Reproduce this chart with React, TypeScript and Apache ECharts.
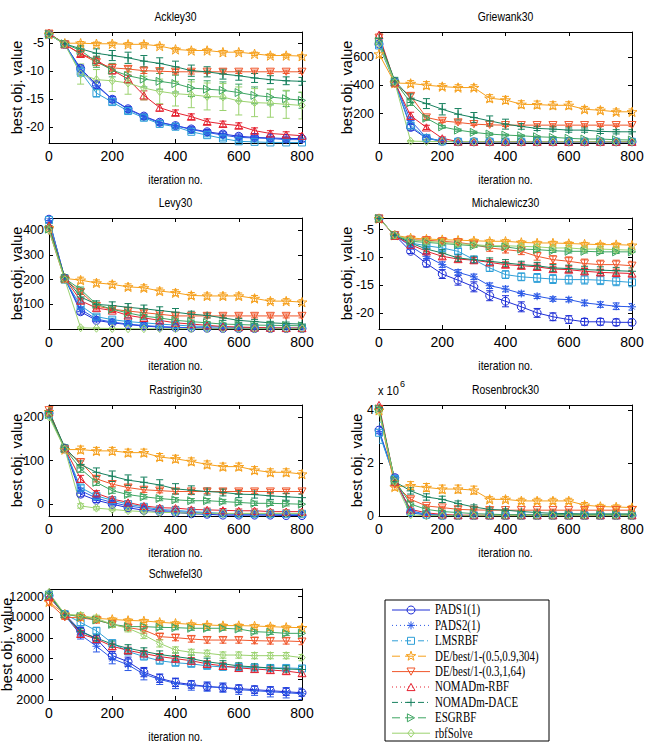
import React, { useEffect, useRef } from "react";
import * as echarts from "echarts";

// Iteration checkpoints shared by every panel
const ITERATIONS = [0, 50, 100, 150, 200, 250, 300, 350, 400, 450, 500, 550, 600, 650, 700, 750, 800];

const METHODS = [
  "PADS1(1)",
  "PADS2(1)",
  "LMSRBF",
  "DE/best/1-(0.5,0.9,304)",
  "DE/best/1-(0.3,1,64)",
  "NOMADm-RBF",
  "NOMADm-DACE",
  "ESGRBF",
  "rbfSolve",
];
const METHOD_COLORS = ["#1f2fd6", "#2a58e6", "#2e9fd8", "#f6a01c", "#f0572c", "#e5212f", "#17805e", "#3ea562", "#9bd26f"];
const METHOD_DASH: (number[] | null)[] = [null, [1, 3], [6, 3, 1, 3], [8, 5], null, [1, 3], [6, 3, 1, 3], [8, 5], null];
const METHOD_MARKERS = ["circle", "asterisk", "square", "star", "triangleDown", "triangleUp", "plus", "triangleRight", "diamond"];
const MARKER_SIZES = [8, 8, 7, 10, 8, 8, 8, 8, 8];

// ---- Ackley30 ----
const ACKLEY_TICKS = [-20, -15, -10, -5];
const ACKLEY_MEAN = [
  [-3.4, -5.2, -9.5, -12.4, -15.0, -16.7, -18.0, -19.1, -19.7, -20.3, -20.8, -21.2, -21.6, -21.8, -21.9, -22.0, -22.0],
  [-3.3, -5.1, -9.8, -12.6, -15.0, -16.8, -18.1, -19.2, -19.7, -20.4, -20.9, -21.4, -21.8, -21.9, -22.0, -22.2, -22.2],
  [-3.4, -5.2, -10.1, -13.9, -15.5, -17.1, -18.3, -19.4, -19.9, -20.8, -21.4, -22.0, -22.5, -22.6, -22.7, -22.7, -22.7],
  [-3.4, -5.0, -5.0, -5.1, -5.1, -5.2, -5.2, -5.5, -6.1, -6.3, -6.3, -6.6, -6.6, -6.9, -7.2, -7.2, -7.3],
  [-3.3, -5.2, -6.9, -8.4, -9.4, -9.6, -9.9, -10.0, -10.1, -10.1, -10.1, -10.1, -10.1, -10.1, -10.1, -10.1, -10.1],
  [-3.2, -5.2, -6.9, -8.0, -9.8, -11.4, -14.3, -16.5, -17.4, -18.1, -19.0, -19.4, -19.7, -20.6, -21.1, -21.3, -21.5],
  [-3.4, -5.1, -6.0, -6.8, -7.2, -7.6, -8.2, -8.6, -9.2, -9.9, -10.1, -10.5, -10.8, -11.2, -11.5, -11.7, -11.8],
  [-3.4, -5.1, -6.3, -8.3, -9.8, -10.8, -11.4, -11.8, -12.2, -13.0, -13.2, -13.4, -13.8, -14.3, -14.6, -14.9, -15.2],
  [-3.4, -5.2, -10.5, -11.5, -11.7, -12.1, -13.0, -13.6, -14.0, -14.2, -14.5, -14.6, -15.3, -15.6, -15.7, -15.9, -16.1],
];
const ACKLEY_ERR = [
  [0.2, 0.3, 0.6, 0.6, 0.5, 0.4, 0.4, 0.4, 0.4, 0.4, 0.4, 0.4, 0.4, 0.3, 0.3, 0.3, 0.3],
  [0.2, 0.3, 0.7, 0.6, 0.5, 0.4, 0.4, 0.4, 0.4, 0.4, 0.3, 0.3, 0.3, 0.3, 0.3, 0.3, 0.3],
  [0.2, 0.3, 0.8, 0.7, 0.5, 0.4, 0.4, 0.3, 0.3, 0.3, 0.3, 0.3, 0.2, 0.2, 0.2, 0.2, 0.2],
  [0.2, 0.2, 0.3, 0.3, 0.3, 0.3, 0.3, 0.3, 0.3, 0.3, 0.3, 0.3, 0.3, 0.3, 0.3, 0.3, 0.3],
  [0.2, 0.3, 0.5, 0.6, 0.6, 0.5, 0.5, 0.4, 0.4, 0.4, 0.3, 0.3, 0.3, 0.3, 0.3, 0.3, 0.3],
  [0.2, 0.3, 0.5, 0.6, 0.7, 0.7, 0.8, 0.6, 0.5, 0.5, 0.5, 0.5, 0.5, 0.5, 0.5, 0.5, 0.4],
  [0.2, 0.3, 0.5, 0.8, 0.9, 1.0, 1.0, 1.0, 1.0, 1.0, 0.9, 0.9, 0.8, 0.8, 0.7, 0.7, 0.7],
  [0.2, 0.4, 0.8, 1.0, 1.2, 1.3, 1.4, 1.4, 1.5, 1.5, 1.5, 1.5, 1.5, 1.5, 1.4, 1.4, 1.4],
  [0.2, 0.4, 1.8, 1.8, 1.9, 2.0, 2.1, 2.2, 2.2, 2.3, 2.4, 2.4, 2.5, 2.5, 2.5, 2.5, 2.4],
];

// ---- Griewank30 ----
const GRIEWANK_TICKS = [200, 400, 600];
const GRIEWANK_MEAN = [
  [690, 420, 102, 25, 4, 1, 0.5, 0.5, 0.5, 0.5, 0.5, 0.5, 0.5, 0.5, 0.5, 0.5, 0.5],
  [700, 425, 150, 30, 5, 1, 0.5, 0.5, 0.5, 0.5, 0.5, 0.5, 0.5, 0.5, 0.5, 0.5, 0.5],
  [680, 415, 115, 28, 4, 1, 0.5, 0.5, 0.5, 0.5, 0.5, 0.5, 0.5, 0.5, 0.5, 0.5, 0.5],
  [620, 415, 412, 400, 390, 383, 383, 308, 296, 265, 263, 258, 258, 230, 223, 212, 212],
  [735, 408, 324, 172, 148, 137, 125, 120, 118, 118, 118, 118, 118, 118, 118, 118, 118],
  [755, 420, 184, 102, 25, 2, 1, 1, 1, 1, 1, 1, 1, 1, 1, 1, 1],
  [730, 430, 308, 270, 230, 195, 172, 148, 125, 109, 95, 90, 83, 83, 74, 71, 71],
  [710, 425, 277, 167, 106, 83, 67, 55, 48, 43, 36, 32, 25, 20, 20, 15, 13],
  [690, 420, 5, 3, 2, 2, 2, 1, 1, 1, 1, 1, 1, 1, 1, 1, 1],
];
const GRIEWANK_ERR = [
  [25, 20, 20, 12, 4, 1, 0.5, 0.5, 0.5, 0.5, 0.5, 0.5, 0.5, 0.5, 0.5, 0.5, 0.5],
  [25, 20, 25, 12, 4, 1, 0.5, 0.5, 0.5, 0.5, 0.5, 0.5, 0.5, 0.5, 0.5, 0.5, 0.5],
  [25, 20, 20, 12, 4, 1, 0.5, 0.5, 0.5, 0.5, 0.5, 0.5, 0.5, 0.5, 0.5, 0.5, 0.5],
  [30, 20, 20, 25, 20, 20, 20, 25, 25, 25, 25, 25, 25, 20, 20, 20, 20],
  [25, 20, 20, 15, 12, 10, 10, 10, 10, 10, 10, 10, 10, 10, 10, 10, 10],
  [30, 20, 25, 15, 10, 3, 1, 1, 1, 1, 1, 1, 1, 1, 1, 1, 1],
  [30, 25, 30, 35, 40, 40, 35, 35, 35, 20, 15, 15, 15, 15, 15, 15, 15],
  [25, 20, 20, 15, 10, 8, 8, 8, 6, 6, 5, 5, 5, 5, 4, 4, 4],
  [25, 20, 5, 3, 2, 1, 1, 1, 1, 1, 1, 1, 1, 1, 1, 1, 1],
];

// ---- Levy30 ----
const LEVY_TICKS = [100, 200, 300, 400];
const LEVY_MEAN = [
  [445, 205, 70, 35, 25, 18, 12, 8, 6, 4, 3, 2, 2, 2, 2, 2, 2],
  [440, 205, 80, 40, 28, 20, 14, 10, 7, 5, 4, 3, 3, 3, 3, 3, 3],
  [442, 200, 95, 50, 38, 30, 25, 20, 16, 12, 10, 8, 6, 5, 4, 4, 3],
  [410, 205, 198, 187, 181, 171, 167, 154, 147, 136, 134, 134, 134, 124, 113, 113, 109],
  [398, 200, 150, 93, 80, 73, 66, 60, 53, 53, 53, 53, 53, 53, 53, 53, 53],
  [420, 205, 115, 85, 75, 55, 45, 35, 25, 20, 15, 10, 8, 6, 5, 4, 4],
  [410, 210, 130, 100, 95, 88, 82, 75, 68, 60, 55, 45, 35, 30, 25, 22, 20],
  [405, 205, 160, 100, 80, 65, 52, 45, 35, 30, 25, 20, 18, 16, 15, 14, 13],
  [400, 200, 5, 3, 2, 1, 1, 1, 1, 1, 1, 1, 1, 1, 1, 1, 1],
];
const LEVY_ERR = [
  [10, 10, 10, 6, 5, 4, 3, 2, 2, 1, 1, 1, 1, 1, 1, 1, 1],
  [10, 10, 10, 6, 5, 4, 3, 2, 2, 1, 1, 1, 1, 1, 1, 1, 1],
  [10, 10, 10, 8, 6, 5, 4, 3, 3, 2, 2, 2, 2, 1, 1, 1, 1],
  [10, 10, 12, 12, 12, 12, 12, 12, 12, 12, 12, 12, 12, 12, 10, 10, 10],
  [10, 10, 10, 8, 8, 8, 8, 8, 8, 8, 8, 8, 8, 8, 8, 8, 8],
  [10, 10, 10, 8, 8, 8, 8, 6, 6, 5, 4, 3, 3, 3, 2, 2, 2],
  [10, 10, 12, 14, 15, 15, 15, 15, 15, 12, 10, 10, 8, 8, 6, 6, 6],
  [10, 10, 10, 8, 8, 8, 7, 7, 6, 6, 5, 5, 4, 4, 4, 4, 4],
  [10, 10, 3, 2, 1, 1, 1, 1, 1, 1, 1, 1, 1, 1, 1, 1, 1],
];

// ---- Michalewicz30 ----
const MICHALEWICZ_TICKS = [-20, -15, -10, -5];
const MICHALEWICZ_MEAN = [
  [-3.0, -6.0, -8.9, -11.1, -13.0, -14.1, -15.3, -16.9, -17.9, -18.9, -20.0, -20.7, -21.2, -21.6, -21.6, -21.7, -21.7],
  [-3.0, -6.0, -8.0, -9.8, -11.3, -12.7, -13.5, -15.1, -15.7, -16.5, -17.0, -17.5, -17.6, -18.2, -18.5, -18.8, -18.9],
  [-3.0, -6.0, -7.4, -7.9, -8.3, -8.9, -10.4, -11.9, -13.1, -13.5, -13.7, -13.9, -14.0, -14.0, -14.1, -14.3, -14.5],
  [-3.0, -6.0, -6.5, -6.7, -6.8, -6.9, -7.0, -7.1, -7.1, -7.3, -7.4, -7.4, -7.5, -7.6, -7.7, -7.7, -7.8],
  [-3.0, -6.0, -6.8, -6.9, -7.1, -7.3, -7.7, -8.3, -8.6, -8.9, -9.8, -10.4, -10.7, -11.1, -11.3, -11.3, -11.5],
  [-3.0, -6.1, -7.7, -8.9, -9.8, -10.3, -10.5, -10.9, -11.3, -11.5, -11.7, -12.1, -12.2, -12.5, -12.7, -12.8, -12.9],
  [-3.0, -6.0, -7.4, -8.5, -9.2, -10.1, -10.4, -10.7, -11.0, -11.3, -11.5, -11.9, -12.0, -12.2, -12.3, -12.4, -12.5],
  [-3.0, -6.0, -7.1, -7.3, -7.5, -7.7, -7.9, -8.0, -8.1, -8.5, -8.6, -8.8, -8.9, -8.9, -9.0, -9.0, -9.0],
  [-3.0, -6.0, -6.8, -7.1, -7.3, -7.5, -7.7, -7.9, -7.9, -8.0, -8.1, -8.3, -8.3, -8.5, -8.5, -8.6, -8.7],
];
const MICHALEWICZ_ERR = [
  [0.1, 0.2, 0.4, 0.6, 0.8, 0.9, 0.9, 0.9, 1.0, 0.9, 0.8, 0.7, 0.7, 0.6, 0.6, 0.6, 0.6],
  [0.1, 0.2, 0.3, 0.4, 0.5, 0.5, 0.5, 0.5, 0.5, 0.4, 0.4, 0.4, 0.4, 0.5, 0.5, 0.6, 0.6],
  [0.1, 0.2, 0.3, 0.3, 0.4, 0.5, 0.6, 0.6, 0.7, 0.7, 0.8, 0.8, 0.8, 0.8, 0.8, 0.8, 0.8],
  [0.1, 0.2, 0.3, 0.3, 0.3, 0.3, 0.3, 0.3, 0.3, 0.3, 0.3, 0.3, 0.3, 0.3, 0.3, 0.3, 0.3],
  [0.1, 0.2, 0.3, 0.3, 0.3, 0.4, 0.5, 0.6, 0.6, 0.6, 0.7, 0.7, 0.8, 0.8, 0.8, 0.8, 0.8],
  [0.1, 0.2, 0.3, 0.4, 0.5, 0.5, 0.5, 0.5, 0.5, 0.5, 0.5, 0.5, 0.5, 0.5, 0.5, 0.5, 0.5],
  [0.1, 0.2, 0.4, 0.5, 0.6, 0.6, 0.6, 0.6, 0.6, 0.6, 0.6, 0.6, 0.6, 0.6, 0.6, 0.6, 0.6],
  [0.1, 0.2, 0.3, 0.3, 0.3, 0.3, 0.3, 0.3, 0.3, 0.3, 0.3, 0.3, 0.3, 0.3, 0.3, 0.3, 0.3],
  [0.1, 0.2, 0.3, 0.3, 0.3, 0.3, 0.4, 0.4, 0.4, 0.4, 0.4, 0.4, 0.4, 0.4, 0.4, 0.4, 0.4],
];

// ---- Rastrigin30 ----
const RASTRIGIN_TICKS = [0, 100, 200];
const RASTRIGIN_MEAN = [
  [208, 127, 23, 9, 0, -8, -14, -17, -19, -22, -23, -25, -25, -25, -25, -26, -26],
  [210, 128, 31, 14, 4, -4, -9, -14, -17, -19, -21, -22, -23, -23, -23, -23, -23],
  [205, 126, 38, 19, 9, 0, -6, -12, -14, -17, -19, -21, -22, -22, -22, -22, -22],
  [212, 125, 125, 122, 122, 118, 118, 108, 104, 98, 91, 86, 86, 78, 73, 73, 69],
  [215, 125, 96, 58, 46, 38, 33, 31, 29, 29, 29, 29, 29, 29, 29, 29, 29],
  [210, 128, 58, 25, 12, 4, -4, -8, -9, -12, -13, -14, -15, -15, -17, -17, -17],
  [212, 130, 91, 73, 64, 55, 50, 44, 35, 32, 29, 27, 23, 22, 19, 17, 15],
  [205, 127, 81, 50, 31, 22, 17, 13, 10, 8, 8, 6, 4, 2, 2, 1, 0],
  [200, 126, -4, -9, -12, -15, -17, -19, -19, -21, -21, -21, -21, -21, -21, -21, -21],
];
const RASTRIGIN_ERR = [
  [8, 6, 6, 5, 4, 3, 3, 3, 2, 2, 2, 2, 2, 2, 2, 2, 2],
  [8, 6, 6, 5, 4, 3, 3, 3, 2, 2, 2, 2, 2, 2, 2, 2, 2],
  [8, 6, 6, 5, 4, 3, 3, 3, 3, 3, 3, 3, 3, 3, 3, 3, 3],
  [8, 6, 8, 8, 8, 8, 8, 8, 8, 8, 8, 8, 8, 8, 8, 8, 8],
  [8, 6, 8, 7, 6, 6, 6, 5, 5, 5, 5, 5, 5, 5, 5, 5, 5],
  [8, 6, 8, 6, 5, 4, 4, 4, 4, 4, 4, 4, 4, 4, 4, 4, 4],
  [8, 6, 8, 10, 12, 12, 12, 12, 12, 10, 8, 8, 8, 8, 8, 8, 8],
  [8, 6, 8, 7, 6, 5, 5, 5, 5, 5, 5, 5, 5, 5, 5, 5, 5],
  [8, 6, 5, 4, 3, 3, 3, 3, 3, 3, 3, 3, 3, 3, 3, 3, 3],
];

// ---- Rosenbrock30 (values in units of 10^6) ----
const ROSENBROCK_TICKS = [0, 2, 4];
const ROSENBROCK_MEAN = [
  [3.25, 1.45, 0.12, 0.04, 0.02, 0.02, 0.02, 0.02, 0.02, 0.02, 0.02, 0.02, 0.02, 0.02, 0.02, 0.02, 0.02],
  [3.2, 1.4, 0.2, 0.06, 0.03, 0.02, 0.02, 0.02, 0.02, 0.02, 0.02, 0.02, 0.02, 0.02, 0.02, 0.02, 0.02],
  [3.15, 1.4, 0.15, 0.05, 0.02, 0.02, 0.02, 0.02, 0.02, 0.02, 0.02, 0.02, 0.02, 0.02, 0.02, 0.02, 0.02],
  [4.0, 1.1, 1.15, 1.08, 1.02, 1.02, 0.98, 0.63, 0.63, 0.57, 0.57, 0.57, 0.57, 0.41, 0.36, 0.34, 0.32],
  [4.05, 1.2, 0.63, 0.38, 0.32, 0.25, 0.23, 0.22, 0.22, 0.22, 0.22, 0.22, 0.22, 0.22, 0.22, 0.22, 0.22],
  [4.2, 1.3, 0.25, 0.12, 0.06, 0.03, 0.03, 0.03, 0.03, 0.03, 0.03, 0.03, 0.03, 0.03, 0.03, 0.03, 0.03],
  [4.1, 1.3, 0.95, 0.72, 0.63, 0.47, 0.34, 0.25, 0.22, 0.17, 0.13, 0.1, 0.09, 0.08, 0.08, 0.08, 0.08],
  [4.05, 1.35, 0.45, 0.25, 0.17, 0.13, 0.09, 0.07, 0.05, 0.05, 0.05, 0.05, 0.05, 0.05, 0.05, 0.05, 0.05],
  [3.95, 1.3, 0.04, 0.01, 0.01, 0.01, 0.01, 0.01, 0.01, 0.01, 0.01, 0.01, 0.01, 0.01, 0.01, 0.01, 0.01],
];
const ROSENBROCK_ERR = [
  [0.15, 0.1, 0.05, 0.02, 0.01, 0.01, 0.01, 0.01, 0.01, 0.01, 0.01, 0.01, 0.01, 0.01, 0.01, 0.01, 0.01],
  [0.15, 0.1, 0.05, 0.02, 0.01, 0.01, 0.01, 0.01, 0.01, 0.01, 0.01, 0.01, 0.01, 0.01, 0.01, 0.01, 0.01],
  [0.4, 0.1, 0.05, 0.02, 0.01, 0.01, 0.01, 0.01, 0.01, 0.01, 0.01, 0.01, 0.01, 0.01, 0.01, 0.01, 0.01],
  [0.1, 0.12, 0.15, 0.15, 0.15, 0.15, 0.15, 0.1, 0.1, 0.1, 0.1, 0.1, 0.1, 0.1, 0.08, 0.08, 0.08],
  [0.1, 0.1, 0.08, 0.05, 0.05, 0.04, 0.04, 0.04, 0.04, 0.04, 0.04, 0.04, 0.04, 0.04, 0.04, 0.04, 0.04],
  [0.1, 0.1, 0.05, 0.03, 0.02, 0.01, 0.01, 0.01, 0.01, 0.01, 0.01, 0.01, 0.01, 0.01, 0.01, 0.01, 0.01],
  [0.1, 0.1, 0.12, 0.12, 0.12, 0.1, 0.08, 0.06, 0.05, 0.04, 0.04, 0.03, 0.03, 0.03, 0.03, 0.03, 0.03],
  [0.1, 0.1, 0.08, 0.05, 0.04, 0.03, 0.02, 0.02, 0.02, 0.02, 0.02, 0.02, 0.02, 0.02, 0.02, 0.02, 0.02],
  [0.1, 0.1, 0.02, 0.01, 0.01, 0.01, 0.01, 0.01, 0.01, 0.01, 0.01, 0.01, 0.01, 0.01, 0.01, 0.01, 0.01],
];

// ---- Schwefel30 ----
const SCHWEFEL_TICKS = [2000, 4000, 6000, 8000, 10000, 12000];
const SCHWEFEL_MEAN = [
  [12100, 10300, 8700, 7900, 6300, 5700, 4700, 4100, 3700, 3500, 3300, 3200, 3100, 3000, 2900, 2800, 2700],
  [12000, 10200, 8300, 7200, 6000, 5400, 4500, 4000, 3600, 3400, 3300, 3200, 3000, 2900, 2800, 2700, 2600],
  [12200, 10300, 9500, 8700, 7500, 6700, 6200, 5800, 5600, 5500, 5300, 5200, 5200, 5150, 5100, 5100, 5050],
  [11500, 10300, 10060, 9900, 9800, 9700, 9650, 9520, 9420, 9320, 9260, 9200, 9200, 9160, 9100, 9030, 9000],
  [11400, 10000, 9950, 9740, 9320, 9000, 8770, 8130, 8030, 7900, 7800, 7800, 7800, 7740, 7710, 7710, 7650],
  [12000, 10300, 8400, 7900, 7200, 6800, 6500, 6200, 6000, 5800, 5500, 5300, 5100, 5000, 4900, 4800, 4600],
  [12300, 10200, 8600, 8000, 7400, 7000, 6700, 6400, 6200, 6000, 5700, 5500, 5300, 5200, 5100, 5000, 4950],
  [12100, 10300, 10060, 9740, 9320, 9100, 9100, 9030, 9000, 8940, 8940, 8940, 8870, 8610, 8550, 8450, 8450],
  [12400, 10300, 10200, 9900, 9320, 8940, 8290, 7480, 6840, 6610, 6520, 6350, 6350, 6290, 6290, 6290, 6100],
];
const SCHWEFEL_ERR = [
  [150, 200, 300, 400, 400, 450, 450, 400, 400, 350, 350, 350, 350, 350, 350, 350, 350],
  [150, 200, 400, 550, 500, 550, 550, 500, 500, 450, 450, 450, 450, 450, 500, 500, 550],
  [150, 200, 300, 300, 300, 300, 250, 250, 250, 250, 250, 250, 250, 250, 250, 250, 250],
  [150, 150, 150, 150, 150, 150, 150, 150, 150, 150, 150, 150, 150, 150, 150, 150, 150],
  [150, 200, 250, 300, 300, 300, 300, 300, 300, 300, 300, 300, 300, 300, 300, 300, 300],
  [150, 200, 300, 300, 300, 300, 300, 300, 300, 300, 300, 300, 300, 300, 300, 300, 300],
  [150, 200, 300, 300, 300, 350, 350, 350, 350, 350, 350, 300, 300, 300, 300, 300, 300],
  [150, 150, 150, 200, 200, 200, 200, 200, 200, 200, 200, 200, 200, 200, 200, 200, 200],
  [150, 200, 250, 300, 300, 350, 350, 350, 300, 300, 300, 300, 300, 300, 300, 300, 300],
];

const PANELS = [
  { title: "Ackley30", mean: ACKLEY_MEAN, err: ACKLEY_ERR, ticks: ACKLEY_TICKS, min: -22.8, max: -3, nameGap: 25 },
  { title: "Griewank30", mean: GRIEWANK_MEAN, err: GRIEWANK_ERR, ticks: GRIEWANK_TICKS, min: -8, max: 775, nameGap: 25 },
  { title: "Levy30", mean: LEVY_MEAN, err: LEVY_ERR, ticks: LEVY_TICKS, min: 0, max: 450, nameGap: 25 },
  { title: "Michalewicz30", mean: MICHALEWICZ_MEAN, err: MICHALEWICZ_ERR, ticks: MICHALEWICZ_TICKS, min: -22.9, max: -2.9, nameGap: 25 },
  { title: "Rastrigin30", mean: RASTRIGIN_MEAN, err: RASTRIGIN_ERR, ticks: RASTRIGIN_TICKS, min: -27, max: 227, nameGap: 25 },
  { title: "Rosenbrock30", mean: ROSENBROCK_MEAN, err: ROSENBROCK_ERR, ticks: ROSENBROCK_TICKS, min: 0, max: 4.2, nameGap: 15 },
  { title: "Schwefel30", mean: SCHWEFEL_MEAN, err: SCHWEFEL_ERR, ticks: SCHWEFEL_TICKS, min: 2000, max: 12740, nameGap: 35 },
];

// Plot-box placement (pixels)
const BOXES = [
  { left: 49, top: 32 },
  { left: 379, top: 32 },
  { left: 49, top: 218 },
  { left: 379, top: 218 },
  { left: 49, top: 405 },
  { left: 379, top: 405 },
  { left: 49, top: 589 },
];
const BOX_W = 253;
const BOX_H = 111;

const SANS = "'Liberation Sans', Arial, sans-serif";
const SERIF = "'Liberation Serif', 'Times New Roman', serif";

// Marker outlines in unit coordinates ([-1, 1] box)
type Pt = [number, number];
const MARKER_SHAPES: Record<string, { polys?: Pt[][]; segs?: Pt[][] }> = {
  asterisk: {
    segs: [
      [[0, -1], [0, 1]],
      [[-1, 0], [1, 0]],
      [[-0.7, -0.7], [0.7, 0.7]],
      [[-0.7, 0.7], [0.7, -0.7]],
    ],
  },
  plus: {
    segs: [
      [[0, -1], [0, 1]],
      [[-1, 0], [1, 0]],
    ],
  },
  square: { polys: [[[-1, -1], [1, -1], [1, 1], [-1, 1]]] },
  star: {
    polys: [[
      [0, -1], [0.2245, -0.309], [0.951, -0.309], [0.363, 0.118], [0.588, 0.809],
      [0, 0.382], [-0.588, 0.809], [-0.363, 0.118], [-0.951, -0.309], [-0.2245, -0.309],
    ]],
  },
  triangleDown: { polys: [[[-1, -0.9], [1, -0.9], [0, 0.9]]] },
  triangleUp: { polys: [[[-1, 0.9], [1, 0.9], [0, -0.9]]] },
  triangleRight: { polys: [[[-0.9, -1], [0.9, 0], [-0.9, 1]]] },
  diamond: { polys: [[[0, -1], [0.8, 0], [0, 1], [-0.8, 0]]] },
};

function symbolFor(kind: string): string {
  if (kind === "circle") return "circle";
  const shape = MARKER_SHAPES[kind];
  const f = (p: Pt) => `${((p[0] + 1) * 10).toFixed(2)},${((p[1] + 1) * 10).toFixed(2)}`;
  let d = "";
  (shape.polys || []).forEach((pts) => {
    d += "M" + pts.map(f).join("L") + "Z";
  });
  (shape.segs || []).forEach((s) => {
    d += "M" + f(s[0]) + "L" + f(s[1]);
  });
  return "path://" + d;
}

function legendMarker(kind: string, cx: number, cy: number, size: number, color: string): any[] {
  const style = { fill: "none", stroke: color, lineWidth: 1 };
  const r = size / 2;
  if (kind === "circle") {
    return [{ type: "circle", shape: { cx, cy, r }, style }];
  }
  const shape = MARKER_SHAPES[kind];
  const out: any[] = [];
  (shape.polys || []).forEach((pts) => {
    out.push({
      type: "polygon",
      shape: { points: pts.map((p) => [cx + p[0] * r, cy + p[1] * r]) },
      style,
    });
  });
  (shape.segs || []).forEach((s) => {
    out.push({
      type: "line",
      shape: { x1: cx + s[0][0] * r, y1: cy + s[0][1] * r, x2: cx + s[1][0] * r, y2: cy + s[1][1] * r },
      style,
    });
  });
  return out;
}

function buildOption(): any {
  const grid: any[] = [];
  const xAxis: any[] = [];
  const yAxis: any[] = [];
  const series: any[] = [];
  const graphics: any[] = [];

  const tickStyle = { show: true, inside: true, length: 4, lineStyle: { color: "#000", width: 1 } };
  const lineStyle = { show: true, onZero: false, lineStyle: { color: "#000", width: 1 } };

  PANELS.forEach((panel, p) => {
    const box = BOXES[p];
    grid.push({
      left: box.left,
      top: box.top,
      width: BOX_W,
      height: BOX_H,
      containLabel: false,
      outerBoundsMode: "none",
    });

    const xBase = {
      type: "value",
      gridIndex: p,
      min: 0,
      max: 800,
      interval: 200,
      axisLine: lineStyle,
      axisTick: tickStyle,
      splitLine: { show: false },
    };
    xAxis.push({
      ...xBase,
      position: "bottom",
      axisLabel: { color: "#000", fontSize: 14, fontFamily: SANS, margin: 6 },
    });
    xAxis.push({ ...xBase, position: "top", axisLabel: { show: false } });

    const yBase = {
      type: "value",
      gridIndex: p,
      min: panel.min,
      max: panel.max,
      axisLine: lineStyle,
      axisTick: { ...tickStyle, customValues: panel.ticks },
      splitLine: { show: false },
    };
    yAxis.push({
      ...yBase,
      position: "left",
      name: "best obj. value",
      nameLocation: "middle",
      nameRotate: 90,
      nameGap: panel.nameGap,
      nameMoveOverlap: false,
      nameTextStyle: { color: "#000", fontSize: 14.5, fontFamily: SANS },
      axisLabel: {
        color: "#000",
        fontSize: 12.5,
        fontFamily: SANS,
        margin: 5,
        customValues: panel.ticks,
        formatter: (v: number) => String(v),
      },
    });
    yAxis.push({ ...yBase, position: "right", axisLabel: { show: false } });

    METHODS.forEach((name, m) => {
      const color = METHOD_COLORS[m];
      const mean = panel.mean[m];
      const err = panel.err[m];
      series.push({
        type: "custom",
        name,
        xAxisIndex: 2 * p,
        yAxisIndex: 2 * p,
        silent: true,
        clip: true,
        data: ITERATIONS.map((x, i) => [x, mean[i] - err[i], mean[i] + err[i]]),
        renderItem: (_params: any, api: any) => {
          const x = api.value(0);
          const lo = api.coord([x, api.value(1)]);
          const hi = api.coord([x, api.value(2)]);
          const w = 3.5;
          const st = { stroke: color, lineWidth: 1 };
          return {
            type: "group",
            children: [
              { type: "line", shape: { x1: lo[0], y1: lo[1], x2: hi[0], y2: hi[1] }, style: st },
              { type: "line", shape: { x1: lo[0] - w, y1: lo[1], x2: lo[0] + w, y2: lo[1] }, style: st },
              { type: "line", shape: { x1: hi[0] - w, y1: hi[1], x2: hi[0] + w, y2: hi[1] }, style: st },
            ],
          };
        },
      });
      series.push({
        type: "line",
        name,
        xAxisIndex: 2 * p,
        yAxisIndex: 2 * p,
        silent: true,
        data: ITERATIONS.map((x, i) => [x, mean[i]]),
        symbol: symbolFor(METHOD_MARKERS[m]),
        symbolSize: MARKER_SIZES[m],
        symbolKeepAspect: true,
        showAllSymbol: true,
        lineStyle: { color, width: 1 },
        itemStyle: { color: "rgba(0,0,0,0)", borderColor: color, borderWidth: 1 },
      });
    });

    // panel title and x-axis caption
    graphics.push({
      type: "text",
      x: box.left + BOX_W / 2,
      y: box.top - 16,
      scaleX: 0.8,
      style: {
        text: panel.title,
        fontSize: 13,
        fontFamily: SANS,
        fill: "#000",
        align: "center",
        verticalAlign: "middle",
      },
    });
    graphics.push({
      type: "text",
      x: box.left + BOX_W / 2,
      y: box.top + BOX_H + 36,
      scaleX: 0.8,
      style: {
        text: "iteration no.",
        fontSize: 13,
        fontFamily: SANS,
        fill: "#000",
        align: "center",
        verticalAlign: "middle",
      },
    });
  });

  // exponent label of the Rosenbrock y axis
  const rb = BOXES[5];
  graphics.push({
    type: "text",
    x: rb.left - 1,
    y: rb.top - 14,
    style: { text: "x 10", fontSize: 13, fontFamily: SANS, fill: "#000", align: "left", verticalAlign: "middle" },
    scaleX: 0.85,
  });
  graphics.push({
    type: "text",
    x: rb.left + 21,
    y: rb.top - 21,
    style: { text: "6", fontSize: 9, fontFamily: SANS, fill: "#000", align: "left", verticalAlign: "middle" },
  });

  // legend box
  const lg = { left: 385, top: 600, width: 164, height: 141 };
  graphics.push({
    type: "rect",
    shape: { x: lg.left, y: lg.top, width: lg.width, height: lg.height },
    style: { fill: "#fff", stroke: "#000", lineWidth: 1 },
  });
  METHODS.forEach((name, m) => {
    const cy = lg.top + 10 + m * 15.4;
    const color = METHOD_COLORS[m];
    const dash = METHOD_DASH[m];
    graphics.push({
      type: "line",
      shape: { x1: lg.left + 7, y1: cy, x2: lg.left + 45, y2: cy },
      style: { stroke: color, lineWidth: 1, lineDash: dash || undefined },
    });
    legendMarker(METHOD_MARKERS[m], lg.left + 26, cy, MARKER_SIZES[m], color).forEach((g) => graphics.push(g));
    graphics.push({
      type: "text",
      x: lg.left + 50,
      y: cy,
      scaleX: 0.78,
      style: {
        text: name,
        fontSize: 14,
        fontFamily: SERIF,
        fill: "#000",
        align: "left",
        verticalAlign: "middle",
      },
    });
  });

  return {
    animation: false,
    backgroundColor: "#fff",
    grid,
    xAxis,
    yAxis,
    series,
    graphic: { elements: graphics },
  };
}

export default function App() {
  const ref = useRef<HTMLDivElement>(null);
  useEffect(() => {
    if (!ref.current) return;
    const chart = echarts.init(ref.current, undefined, { renderer: "svg" });
    chart.setOption(buildOption());
    return () => chart.dispose();
  }, []);
  return (
    <div
      ref={ref}
      style={{ position: "fixed", left: 0, top: 0, width: 645, height: 743, background: "#fff" }}
    />
  );
}
